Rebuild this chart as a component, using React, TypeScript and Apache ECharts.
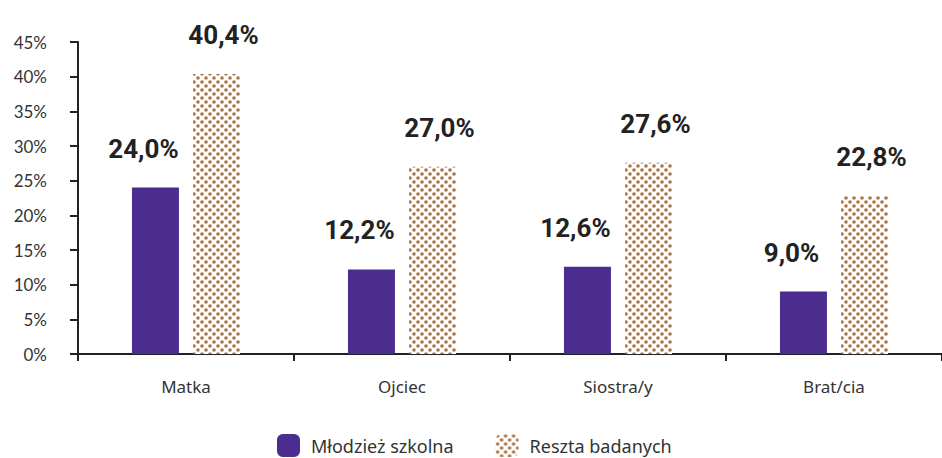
import React, { useEffect, useRef } from "react";
import * as echarts from "echarts";

const categories = ["Matka", "Ojciec", "Siostra/y", "Brat/cia"];
const seriesNames = ["Młodzież szkolna", "Reszta badanych"];
const youthValues = [24.0, 12.2, 12.6, 9.0];
const restValues = [40.4, 27.0, 27.6, 22.8];

function makePattern(): HTMLCanvasElement {
  const c = document.createElement("canvas");
  const s = 8;
  c.width = s;
  c.height = s;
  const ctx = c.getContext("2d")!;
  ctx.fillStyle = "#ffffff";
  ctx.fillRect(0, 0, s, s);
  ctx.fillStyle = "#ad7444";
  const dots = [
    [2, 2],
    [6, 6],
  ];
  for (const [x, y] of dots) {
    ctx.beginPath();
    ctx.arc(x, y, 1.8, 0, Math.PI * 2);
    ctx.fill();
  }
  return c;
}

export default function App() {
  const ref = useRef<HTMLDivElement>(null);
  useEffect(() => {
    document.body.style.margin = "0";
    if (!ref.current) return;
    const chart = echarts.init(ref.current, undefined, { renderer: "svg" });
    const pattern = { image: makePattern(), repeat: "repeat" as const };
    const fmt = (p: any) => Number(p.value).toFixed(1).replace(".", ",") + "%";
    const labelStyle = (dx: number) => ({
      show: true,
      position: "top" as const,
      distance: 26,
      offset: [dx, 0],
      formatter: fmt,
      fontSize: 26,
      fontWeight: "bold" as const,
      color: "#222",
      fontFamily: "Roboto",
    });
    chart.setOption({
      animation: false,
      grid: { left: 78, right: -4, top: 42, bottom: 104, containLabel: false },
      legend: {
        top: 434,
        left: 277,
        padding: 0,
        itemWidth: 23,
        itemHeight: 23,
        itemGap: 42,
        textStyle: { fontSize: 18, color: "#333", fontFamily: "Noto Sans", padding: [0, 0, 0, 6] },
        data: [
          { name: seriesNames[0], itemStyle: { color: "#4a2d8f" } },
          { name: seriesNames[1], itemStyle: { color: pattern } },
        ],
      },
      xAxis: {
        type: "category",
        data: categories,
        axisLine: { lineStyle: { color: "#222", width: 2 } },
        axisTick: { show: true, length: 7, lineStyle: { color: "#222", width: 2 } },
        axisLabel: { margin: 24, fontSize: 17, color: "#333", fontFamily: "Noto Sans" },
      },
      yAxis: {
        type: "value",
        min: 0,
        max: 45,
        interval: 5,
        splitLine: { show: false },
        axisLine: { show: true, lineStyle: { color: "#222", width: 2 } },
        axisTick: { show: true, length: 8, lineStyle: { color: "#222", width: 2 } },
        axisLabel: {
          formatter: "{value}%",
          margin: 31,
          fontSize: 17,
          color: "#333",
          fontFamily: "Lato",
        },
      },
      series: [
        {
          name: seriesNames[0],
          type: "bar",
          data: youthValues,
          barWidth: 47,
          barGap: "30%",
          itemStyle: { color: "#4a2d8f" },
          label: labelStyle(-12),
        },
        {
          name: seriesNames[1],
          type: "bar",
          data: restValues,
          barWidth: 47,
          barGap: "30%",
          itemStyle: { color: pattern },
          label: labelStyle(7),
        },
      ],
    });
    return () => chart.dispose();
  }, []);
  return <div ref={ref} style={{ width: 942, height: 458 }} />;
}
